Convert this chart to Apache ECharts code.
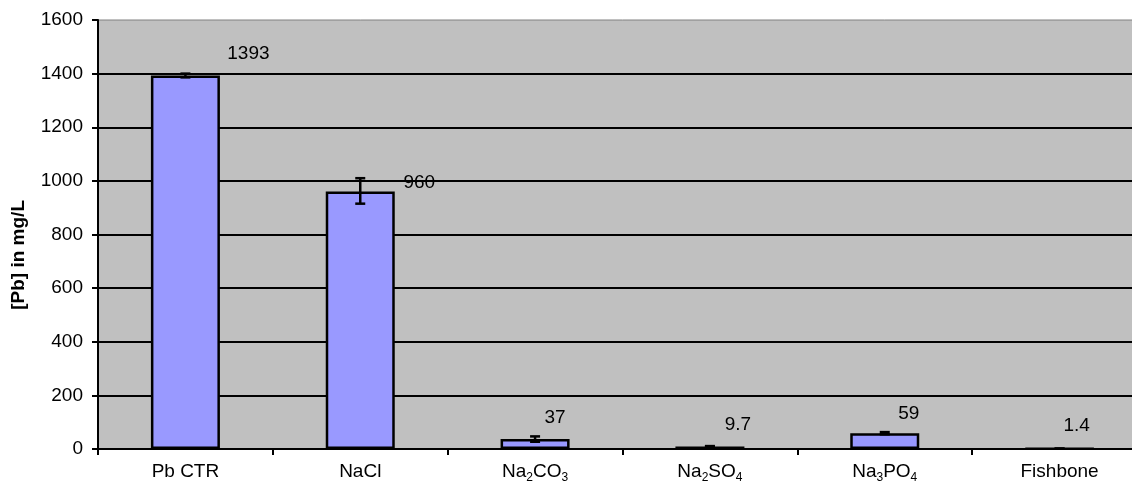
<!DOCTYPE html>
<html>
<head>
<meta charset="utf-8">
<script src="https://cdn.jsdelivr.net/npm/echarts@6/dist/echarts.min.js"></script>
<style>
html,body{margin:0;padding:0;background:#fff;overflow:hidden;}
#wrap{width:1132px;height:484px;overflow:hidden;position:relative;}
#c{position:absolute;left:0;top:0;width:1147px;height:484px;}
</style>
</head>
<body>
<div id="wrap"><div id="c"></div></div>
<script>
// ---- data ----
const categories = ['Pb CTR', 'NaCl', 'Na{s|2}CO{s|3}', 'Na{s|2}SO{s|4}', 'Na{s|3}PO{s|4}', 'Fishbone'];
const values = [1393, 960, 37, 9.7, 59, 1.4];
const errLow = [1386, 915, 27, 8.5, 55, 0.9];
const errHigh = [1400, 1010, 47, 10.9, 63, 1.9];
const yTicks = { min: 0, max: 1600, interval: 200 };
const yTitle = '[Pb] in mg/L';

// label placement (styling only)
const labelDx = [63, 59, 20, 28, 24, 17];
const labelDy = [-7, 6, -7, -7, -5, -7];

const chart = echarts.init(document.getElementById('c'));
const font = 'Liberation Sans, Arial, sans-serif';

const barData = values.map((v, i) => ({
  value: v,
  label: { offset: [labelDx[i], labelDy[i]] }
}));
const errData = values.map((v, i) => [i, errLow[i], errHigh[i]]);

chart.setOption({
  animation: false,
  grid: {
    left: 98, top: 20, bottom: 32, right: 0,
    show: true, backgroundColor: '#C0C0C0', borderColor: '#808080', borderWidth: 1,
    containLabel: false
  },
  xAxis: {
    type: 'category',
    data: categories,
    boundaryGap: true,
    axisLine: { lineStyle: { color: '#000', width: 2 } },
    axisTick: { show: true, inside: false, length: 6, alignWithLabel: false, lineStyle: { color: '#000', width: 2 } },
    axisLabel: {
      color: '#000', fontFamily: font, fontSize: 19, margin: 11, interval: 0,
      lineHeight: 24,
      rich: {
        s: { fontSize: 12, fontFamily: font, color: '#000', lineHeight: 10, verticalAlign: 'bottom' }
      }
    },
    splitLine: { show: false }
  },
  yAxis: {
    type: 'value',
    min: yTicks.min, max: yTicks.max, interval: yTicks.interval,
    axisLine: { show: true, lineStyle: { color: '#000', width: 2 } },
    axisTick: { show: true, inside: false, length: 6, lineStyle: { color: '#000', width: 2 } },
    axisLabel: { color: '#000', fontFamily: font, fontSize: 19, margin: 15, formatter: v => String(v) },
    splitLine: { show: true, showMaxLine: false, lineStyle: { color: '#000', width: 2 } }
  },
  graphic: [{
    type: 'text',
    left: 9, top: 200,
    rotation: Math.PI / 2,
    style: { text: yTitle, fontFamily: font, fontSize: 19, fontWeight: 'bold', fill: '#000' }
  }],
  series: [{
    type: 'bar',
    data: barData,
    barWidth: 69,
    itemStyle: { color: '#9999FF', borderColor: '#000', borderWidth: 2.5 },
    label: {
      show: true, position: 'top', distance: 5,
      color: '#000', fontFamily: font, fontSize: 19
    },
    z: 2
  }, {
    type: 'custom',
    data: errData,
    z: 5,
    renderItem: function (params, api) {
      const x = api.value(0);
      const lo = api.coord([x, api.value(1)]);
      const hi = api.coord([x, api.value(2)]);
      const hw = 5;
      const st = { stroke: '#000', lineWidth: 2.5 };
      return {
        type: 'group',
        children: [
          { type: 'line', shape: { x1: lo[0], y1: lo[1], x2: hi[0], y2: hi[1] }, style: st },
          { type: 'line', shape: { x1: lo[0] - hw, y1: lo[1], x2: lo[0] + hw, y2: lo[1] }, style: st },
          { type: 'line', shape: { x1: hi[0] - hw, y1: hi[1], x2: hi[0] + hw, y2: hi[1] }, style: st }
        ]
      };
    }
  }]
});
</script>
</body>
</html>
